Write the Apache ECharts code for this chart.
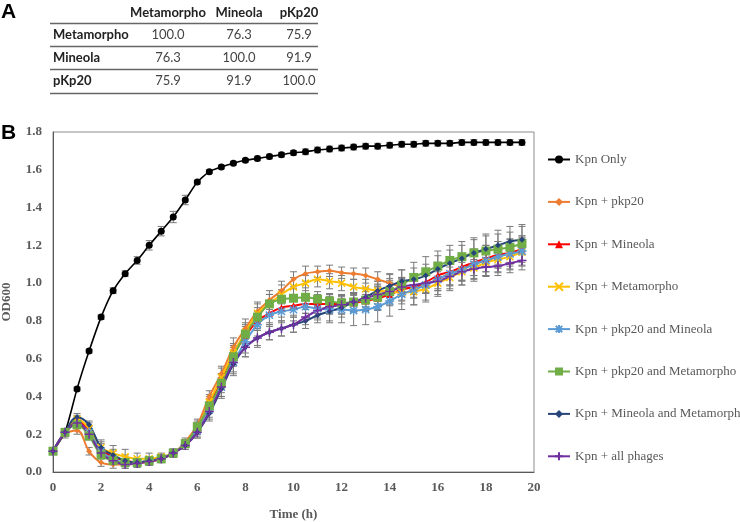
<!DOCTYPE html>
<html>
<head>
<meta charset="utf-8">
<script src="https://cdn.jsdelivr.net/npm/echarts@6/dist/echarts.min.js"></script>
<style>
html,body{margin:0;padding:0;background:#fff;}
#chart{width:740px;height:522px;}
</style>
</head>
<body>
<div id="chart"></div>
<script>
// ---- Panel A: table data ----
const phageNames = ['Metamorpho', 'Mineola', 'pKp20'];
const identityMetamorpho = [100.0, 76.3, 75.9];
const identityMineola = [76.3, 100.0, 91.9];
const identityPkp20 = [75.9, 91.9, 100.0];

// ---- Panel B: growth curves ----
const timeH = [0,0.5,1,1.5,2,2.5,3,3.5,4,4.5,5,5.5,6,6.5,7,7.5,8,8.5,9,9.5,10,10.5,11,11.5,12,12.5,13,13.5,14,14.5,15,15.5,16,16.5,17,17.5,18,18.5,19,19.5];
const xTicks = [0,2,4,6,8,10,12,14,16,18,20];
const yTicks = [0,0.2,0.4,0.6,0.8,1.0,1.2,1.4,1.6,1.8];

const seriesNames = ['Kpn Only','Kpn + pkp20','Kpn + Mineola','Kpn + Metamorpho','Kpn + pkp20 and Mineola','Kpn + pkp20 and Metamorpho','Kpn + Mineola and Metamorpho','Kpn + all phages'];

const kpnOnly = [0.11,0.21,0.44,0.64,0.82,0.96,1.05,1.12,1.20,1.275,1.35,1.44,1.535,1.59,1.615,1.635,1.65,1.66,1.67,1.68,1.69,1.695,1.705,1.71,1.715,1.72,1.725,1.725,1.73,1.735,1.735,1.74,1.74,1.74,1.745,1.745,1.745,1.745,1.745,1.745];
const kpnPkp20 = [0.11,0.20,0.22,0.11,0.05,0.04,0.04,0.045,0.055,0.07,0.10,0.16,0.25,0.40,0.52,0.66,0.76,0.85,0.91,0.96,1.02,1.05,1.06,1.065,1.055,1.05,1.04,1.02,1.0,0.98,0.975,0.995,1.02,1.05,1.075,1.10,1.12,1.14,1.16,1.18];
const kpnMineola = [0.11,0.21,0.27,0.22,0.12,0.08,0.06,0.05,0.055,0.07,0.10,0.15,0.23,0.36,0.48,0.62,0.72,0.80,0.84,0.87,0.88,0.89,0.89,0.89,0.89,0.895,0.905,0.92,0.94,0.965,0.98,1.005,1.04,1.06,1.085,1.11,1.13,1.15,1.16,1.18];
const kpnMetamorpho = [0.11,0.21,0.28,0.23,0.13,0.10,0.08,0.07,0.07,0.08,0.10,0.15,0.23,0.37,0.50,0.63,0.74,0.84,0.89,0.94,0.98,1.0,1.02,1.01,1.0,0.98,0.97,0.96,0.955,0.95,0.955,0.97,1.0,1.03,1.06,1.08,1.11,1.125,1.14,1.165];
const kpnPkp20Mineola = [0.11,0.21,0.25,0.21,0.11,0.07,0.05,0.05,0.06,0.07,0.10,0.15,0.22,0.33,0.45,0.58,0.69,0.78,0.83,0.85,0.86,0.875,0.865,0.86,0.86,0.855,0.86,0.875,0.905,0.94,0.965,0.99,1.02,1.05,1.07,1.10,1.12,1.14,1.155,1.17];
const kpnPkp20Metamorpho = [0.11,0.21,0.25,0.19,0.09,0.06,0.05,0.05,0.06,0.07,0.10,0.15,0.24,0.35,0.47,0.61,0.73,0.82,0.89,0.915,0.92,0.925,0.915,0.905,0.895,0.90,0.91,0.925,0.955,0.99,1.03,1.06,1.09,1.12,1.14,1.16,1.17,1.18,1.19,1.21];
const kpnMineolaMetamorpho = [0.11,0.21,0.29,0.25,0.13,0.09,0.06,0.05,0.06,0.07,0.10,0.14,0.21,0.31,0.44,0.57,0.66,0.71,0.74,0.76,0.78,0.80,0.83,0.85,0.87,0.90,0.925,0.96,0.985,1.01,1.02,1.04,1.075,1.105,1.13,1.16,1.18,1.20,1.22,1.23];
const kpnAllPhages = [0.11,0.21,0.26,0.20,0.10,0.06,0.04,0.045,0.055,0.07,0.10,0.14,0.21,0.32,0.45,0.58,0.66,0.71,0.74,0.76,0.78,0.82,0.855,0.875,0.885,0.90,0.92,0.94,0.955,0.98,0.99,1.0,1.01,1.035,1.06,1.075,1.085,1.09,1.105,1.12];

// error bar half-widths (SD)
const errKpnOnly = [0.005,0.01,0.01,0.01,0.012,0.015,0.015,0.02,0.025,0.025,0.03,0.025,0.01,0.01,0.01,0.01,0.01,0.012,0.012,0.012,0.012,0.015,0.015,0.015,0.015,0.015,0.015,0.015,0.015,0.015,0.015,0.015,0.015,0.015,0.015,0.015,0.015,0.015,0.015,0.015];
const errPkp20 = [0.01,0.02,0.02,0.02,0.02,0.02,0.02,0.02,0.02,0.02,0.02,0.02,0.03,0.03,0.04,0.05,0.05,0.05,0.05,0.05,0.04,0.04,0.03,0.03,0.03,0.03,0.04,0.04,0.05,0.05,0.05,0.05,0.06,0.06,0.06,0.06,0.06,0.06,0.06,0.06];
const errMineola = [0.01,0.02,0.02,0.02,0.03,0.03,0.03,0.02,0.02,0.02,0.02,0.02,0.03,0.04,0.04,0.05,0.05,0.05,0.05,0.05,0.05,0.05,0.05,0.05,0.05,0.05,0.05,0.06,0.06,0.06,0.06,0.06,0.07,0.07,0.07,0.07,0.07,0.07,0.07,0.07];
const errMetamorpho = [0.01,0.02,0.02,0.03,0.04,0.04,0.04,0.03,0.03,0.02,0.02,0.02,0.03,0.04,0.05,0.05,0.05,0.05,0.05,0.05,0.05,0.04,0.04,0.04,0.04,0.04,0.05,0.05,0.06,0.06,0.07,0.07,0.07,0.07,0.07,0.07,0.07,0.07,0.07,0.07];
const errPkp20Mineola = [0.01,0.02,0.02,0.02,0.02,0.02,0.02,0.02,0.02,0.02,0.02,0.02,0.03,0.04,0.05,0.06,0.06,0.06,0.06,0.06,0.06,0.06,0.06,0.07,0.07,0.08,0.08,0.08,0.08,0.08,0.08,0.08,0.08,0.08,0.08,0.08,0.08,0.08,0.08,0.08];
const errPkp20Metamorpho = [0.01,0.02,0.02,0.02,0.02,0.02,0.02,0.02,0.02,0.02,0.02,0.02,0.03,0.04,0.05,0.05,0.05,0.05,0.05,0.05,0.05,0.05,0.04,0.04,0.04,0.05,0.06,0.07,0.07,0.08,0.08,0.08,0.08,0.08,0.08,0.08,0.08,0.08,0.08,0.09];
const errMineolaMetamorpho = [0.01,0.02,0.02,0.02,0.03,0.03,0.02,0.02,0.02,0.02,0.02,0.02,0.03,0.04,0.05,0.06,0.05,0.05,0.04,0.04,0.04,0.04,0.04,0.05,0.05,0.05,0.05,0.05,0.06,0.06,0.06,0.06,0.07,0.07,0.07,0.07,0.08,0.08,0.08,0.08];
const errAllPhages = [0.01,0.02,0.02,0.02,0.02,0.02,0.02,0.02,0.02,0.02,0.02,0.02,0.03,0.04,0.05,0.05,0.05,0.04,0.04,0.04,0.04,0.04,0.04,0.04,0.05,0.05,0.05,0.05,0.05,0.05,0.05,0.05,0.05,0.05,0.05,0.05,0.05,0.05,0.05,0.05];

const allValues = [kpnOnly,kpnPkp20,kpnMineola,kpnMetamorpho,kpnPkp20Mineola,kpnPkp20Metamorpho,kpnMineolaMetamorpho,kpnAllPhages];
const allErrors = [errKpnOnly,errPkp20,errMineola,errMetamorpho,errPkp20Mineola,errPkp20Metamorpho,errMineolaMetamorpho,errAllPhages];

const colors = ['#000000','#ED7D31','#FF0000','#FFC000','#5B9BD5','#70AD47','#264478','#7030A0'];
const symbols = ['circle','diamond','triangle','path://M0,0L10,10M10,0L0,10','path://M5,0L5,10M0,5L10,5M1,1L9,9M9,1L1,9','rect','diamond','path://M5,0L5,10M0,5L10,5'];
const symbolSizes = [7,6,7,7,9,9,6,9];
const strokeSymbol = [false,false,false,true,true,false,false,true];

const chart = echarts.init(document.getElementById('chart'), null, {renderer:'canvas'});

const serif = 'Liberation Serif, Times New Roman, serif';
const textGrey = '#595959';

// table graphics
const colX = [168, 239, 299];
const rowY = [35, 58, 81];
const tableRows = [identityMetamorpho, identityMineola, identityPkp20];
const graphics = [];
graphics.push({type:'text', left:1, top:2, style:{text:'A', font:'bold 21px "Liberation Sans", Arial, sans-serif', fill:'#000'}});
graphics.push({type:'text', left:1, top:123, style:{text:'B', font:'bold 21px "Liberation Sans", Arial, sans-serif', fill:'#000'}});
phageNames.forEach((n,i)=>{
  graphics.push({type:'text', x:colX[i], y:13, style:{text:n, font:'bold 13px Lato, sans-serif', fill:'#222', align:'center', verticalAlign:'middle'}});
  graphics.push({type:'text', x:53, y:rowY[i], style:{text:n, font:'bold 13px Lato, sans-serif', fill:'#222', align:'left', verticalAlign:'middle'}});
  tableRows[i].forEach((v,j)=>{
    graphics.push({type:'text', x:colX[j], y:rowY[i], style:{text:v.toFixed(1), font:'13px Lato, sans-serif', fill:'#444', align:'center', verticalAlign:'middle'}});
  });
});
[23.5, 46.5, 69.5, 93.5].forEach(y=>{
  graphics.push({type:'line', shape:{x1:50, y1:y, x2:318, y2:y}, style:{stroke:'#666', lineWidth:1.3}});
});

function errRender(params, api){
  const x = api.value(0), lo = api.value(1), hi = api.value(2);
  const p1 = api.coord([x, lo]);
  const p2 = api.coord([x, hi]);
  const w = 3.5;
  const st = {stroke:'#7a7a7a', lineWidth:1};
  return {type:'group', children:[
    {type:'line', shape:{x1:p1[0], y1:p1[1], x2:p2[0], y2:p2[1]}, style:st},
    {type:'line', shape:{x1:p1[0]-w, y1:p1[1], x2:p1[0]+w, y2:p1[1]}, style:st},
    {type:'line', shape:{x1:p2[0]-w, y1:p2[1], x2:p2[0]+w, y2:p2[1]}, style:st}
  ]};
}

const series = [];
allValues.forEach((vals,k)=>{
  series.push({
    type:'custom', name:seriesNames[k]+' err', renderItem:errRender,
    data: vals.map((v,i)=>[timeH[i], v-allErrors[k][i], v+allErrors[k][i]]),
    encode:{x:0, y:[1,2]}, z:1, silent:true
  });
});
allValues.forEach((vals,k)=>{
  const style = {color:colors[k]};
  if (strokeSymbol[k]) { style.borderColor = colors[k]; style.borderWidth = 1.5; }
  series.push({
    type:'line', name:seriesNames[k],
    data: vals.map((v,i)=>[timeH[i], v]),
    smooth: k===0 ? 0.2 : 0.4,
    symbol: symbols[k], symbolSize: symbolSizes[k],
    showAllSymbol:true,
    lineStyle:{color:colors[k], width: k===0 ? 1.6 : 2},
    itemStyle: style,
    z:2, animation:false
  });
});

chart.setOption({
  animation:false,
  backgroundColor:'#fff',
  graphic: graphics,
  grid:{left:53, right:206, top:132, bottom:50, show:true, borderColor:'#8c8c8c', borderWidth:1, outerBoundsMode:'none', containLabel:false},
  legend:{
    orient:'vertical', left:542, top:148, itemWidth:22, itemHeight:10, itemGap:29.4,
    data: seriesNames,
    textStyle:{fontFamily:serif, fontSize:13, color:textGrey},
    selectedMode:false
  },
  xAxis:{
    type:'value', min:xTicks[0], max:xTicks[xTicks.length-1], interval:2,
    axisLine:{show:true, lineStyle:{color:'#595959', width:1}},
    axisTick:{show:false}, splitLine:{show:false},
    axisLabel:{fontFamily:serif, fontWeight:'bold', fontSize:13, color:textGrey, margin:9},
    name:'Time (h)', nameLocation:'middle', nameGap:36,
    nameTextStyle:{fontFamily:serif, fontWeight:'bold', fontSize:13, color:textGrey}
  },
  yAxis:{
    type:'value', min:yTicks[0], max:yTicks[yTicks.length-1], interval:0.2,
    axisLine:{show:true, lineStyle:{color:'#595959', width:1}},
    axisTick:{show:false}, splitLine:{show:false},
    axisLabel:{fontFamily:serif, fontWeight:'bold', fontSize:13, color:textGrey, margin:11, formatter:v=>v.toFixed(1)},
    name:'OD600', nameLocation:'middle', nameGap:40,
    nameTextStyle:{fontFamily:serif, fontWeight:'bold', fontSize:13, color:textGrey}
  },
  series: series
});
</script>
</body>
</html>
